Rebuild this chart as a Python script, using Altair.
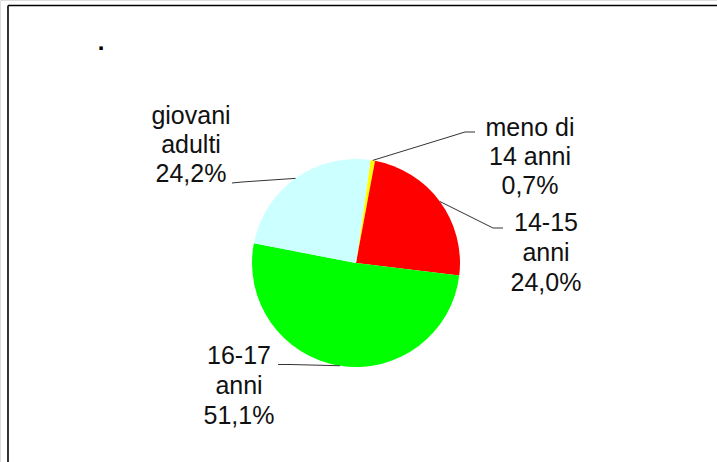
import math
import altair as alt
import pandas as pd

# ---- data ----
categories = ["meno di 14 anni", "14-15 anni", "16-17 anni", "giovani adulti"]
values = [0.7, 24.0, 51.1, 24.2]
label_names = [["meno di", "14 anni"], ["14-15", "anni"], ["16-17", "anni"], ["giovani", "adulti"]]
colors = ["#FFFF00", "#FF0000", "#00FF00", "#CCFFFF"]

# ---- layout (pixels) ----
W, H = 717, 462
CX, CY, R = 356, 263, 104
START = 0.14  # radians, clockwise from 12 o'clock
FONT = "Liberation Sans"
FS = 25
# label block: x centre, first-line y, line spacing
label_pos = [(530, 128, 29), (546, 223, 30), (239, 356, 30), (191, 116, 29)]
# leader elbows and ends
leader_pts = [((465, 132), (475, 132)),
              ((493, 228), (503, 228)),
              ((290, 364.5), (278, 364.5)),
              ((242, 182), (232, 183))]

def fmt(v):
    return f"{v:.1f}".replace(".", ",") + "%"

pie_df = pd.DataFrame({"cat": categories, "value": values, "idx": range(len(values))})

# text rows
trows = []
for i, (names, v) in enumerate(zip(label_names, values)):
    lx, ly, sp = label_pos[i]
    for j, t in enumerate(names + [fmt(v)]):
        trows.append({"x": lx, "y": ly + j * sp, "t": t})
text_df = pd.DataFrame(trows)

# leader segments (start at slice mid-angle on the rim)
total = sum(values)
srows = []
cum = 0.0
for i, v in enumerate(values):
    mid = START + 2 * math.pi * (cum + v / 2) / total
    cum += v
    sx, sy = CX + R * math.sin(mid), CY - R * math.cos(mid)
    (ex, ey), (fx, fy) = leader_pts[i]
    srows.append({"x": sx, "y": sy, "x2": ex, "y2": ey})
    srows.append({"x": ex, "y": ey, "x2": fx, "y2": fy})
seg_df = pd.DataFrame(srows)

xs = alt.Scale(domain=[0, W], nice=False, zero=False)
ys = alt.Scale(domain=[H, 0], nice=False, zero=False)

pie = alt.Chart(pie_df).mark_arc(outerRadius=R).encode(
    theta=alt.Theta("value:Q", stack=True,
                    scale=alt.Scale(range=[START, START + 2 * math.pi])),
    order=alt.Order("idx:Q"),
    color=alt.Color("cat:N", scale=alt.Scale(domain=categories, range=colors), legend=None),
    x=alt.value(CX),
    y=alt.value(CY),
)

leaders = alt.Chart(seg_df).mark_rule(color="#333333", strokeWidth=1).encode(
    x=alt.X("x:Q", scale=xs, axis=None),
    y=alt.Y("y:Q", scale=ys, axis=None),
    x2="x2:Q",
    y2="y2:Q",
)

labels = alt.Chart(text_df).mark_text(
    font=FONT, fontSize=FS, color="#111111", align="center", baseline="middle"
).encode(
    x=alt.X("x:Q", scale=xs, axis=None),
    y=alt.Y("y:Q", scale=ys, axis=None),
    text="t:N",
)

frame_top = alt.Chart(pd.DataFrame({"a": [0]})).mark_rule(color="#000000", strokeWidth=1.6).encode(
    x=alt.value(8), x2=alt.value(W), y=alt.value(5.5)
)
frame_left = alt.Chart(pd.DataFrame({"a": [0]})).mark_rule(color="#000000", strokeWidth=1.6).encode(
    x=alt.value(8), y=alt.value(5.5), y2=alt.value(H)
)
dot = alt.Chart(pd.DataFrame({"t": ["."]})).mark_text(
    font=FONT, fontSize=24, fontWeight="bold", color="#000000", align="center", baseline="alphabetic"
).encode(x=alt.value(101), y=alt.value(50), text="t:N")

chart = alt.layer(pie, leaders, labels, frame_top, frame_left, dot).properties(
    width=W, height=H, autosize=alt.AutoSizeParams(type="none"), padding=0
).configure_view(stroke=None).configure(background="#ffffff")

chart.save("out.html", embed_options={"renderer": "svg", "actions": False})
